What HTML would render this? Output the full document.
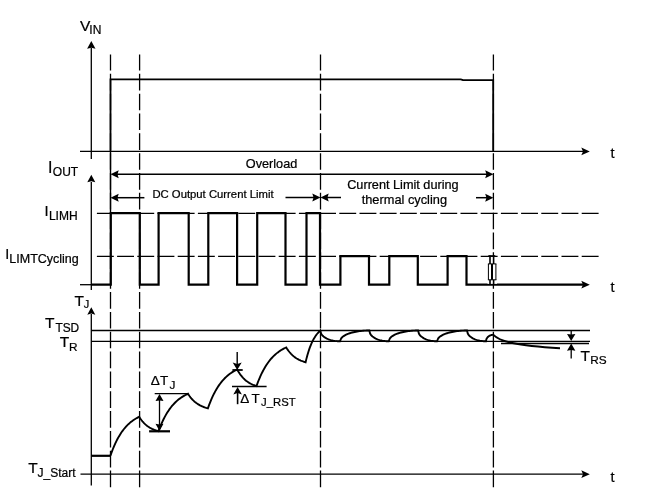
<!DOCTYPE html>
<html><head><meta charset="utf-8"><style>html,body{margin:0;padding:0;background:#fff;overflow:hidden}svg{display:block;will-change:transform}</style></head>
<body><svg width="654" height="502" viewBox="0 0 654 502">
<rect x="0" y="0" width="654" height="502" fill="#fff"/>
<line x1="110.5" y1="54.5" x2="110.5" y2="487.5" stroke="#000" stroke-width="1.3" stroke-dasharray="16.64 3.2" stroke-dashoffset="0.54"/>
<line x1="139.6" y1="54.5" x2="139.6" y2="487.5" stroke="#000" stroke-width="1.3" stroke-dasharray="16.64 3.2" stroke-dashoffset="0.54"/>
<line x1="320.5" y1="54.5" x2="320.5" y2="487.5" stroke="#000" stroke-width="1.3" stroke-dasharray="16.64 3.2" stroke-dashoffset="0.54"/>
<line x1="493.4" y1="54.5" x2="493.4" y2="487.5" stroke="#000" stroke-width="1.3" stroke-dasharray="16.64 3.2" stroke-dashoffset="0.54"/>
<line x1="96" y1="213.4" x2="600" y2="213.4" stroke="#000" stroke-width="1.3" stroke-dasharray="16.9 3.3" stroke-dashoffset="19.3"/>
<line x1="96" y1="256.4" x2="600" y2="256.4" stroke="#000" stroke-width="1.3" stroke-dasharray="16.9 3.3" stroke-dashoffset="19.3"/>
<line x1="91.3" y1="48" x2="91.3" y2="159" stroke="#000" stroke-width="1.3"/>
<polygon points="91.30,41.00 87.10,48.80 91.30,47.63 95.50,48.80" fill="#000"/>
<line x1="91.3" y1="182" x2="91.3" y2="290" stroke="#000" stroke-width="1.3"/>
<polygon points="91.30,174.80 87.30,182.30 91.30,181.18 95.30,182.30" fill="#000"/>
<line x1="91.3" y1="314" x2="91.3" y2="485.5" stroke="#000" stroke-width="1.3"/>
<polygon points="91.30,307.20 87.30,314.70 91.30,313.57 95.30,314.70" fill="#000"/>
<line x1="80" y1="151.4" x2="583" y2="151.4" stroke="#000" stroke-width="1.4"/>
<path d="M110.5,151.2 V79.3 H460.8 L463,80.2 H493.2 V151.2" fill="none" stroke="#000" stroke-width="1.8" stroke-linejoin="miter" stroke-linecap="butt"/>
<line x1="110.5" y1="151" x2="110.5" y2="214" stroke="#000" stroke-width="1.4"/>
<polygon points="589.80,151.40 581.30,147.50 583.00,151.40 581.30,155.30" fill="#000"/>
<line x1="80" y1="284.7" x2="92" y2="284.7" stroke="#000" stroke-width="1.3"/>
<path d="M91.3,284.7 H110.8 V213.2 H139.8 V284.7 H158.6 V213.2 H188.7 V284.7 H208.3 V213.2 H237.1 V284.7 H257.2 V213.2 H285.5 V284.7 H306.5 V213.2 H320 V284.7 H340.4 V256.2 H369 V284.7 H389.3 V256.2 H417.8 V284.7 H447.6 V256.2 H466.5 V284.7 H583" fill="none" stroke="#000" stroke-width="2.2" stroke-linejoin="miter" stroke-linecap="butt"/>
<polygon points="589.80,284.70 581.30,280.80 583.00,284.70 581.30,288.60" fill="#000"/>
<rect x="487.5" y="257" width="9.5" height="26.8" fill="#fff"/>
<rect x="488.3" y="255.2" width="7" height="1.8" fill="#000"/>
<rect x="489.2" y="255.5" width="1.6" height="8.5" fill="#000"/>
<rect x="489.2" y="279.8" width="1.6" height="5" fill="#000"/>
<rect x="492.8" y="255.5" width="1.6" height="8.5" fill="#000"/>
<rect x="492.8" y="279.8" width="1.6" height="5" fill="#000"/>
<rect x="491.0" y="264" width="2.0" height="15.8" fill="#000"/>
<rect x="487.9" y="264" width="1.0" height="15.8" fill="#000"/>
<rect x="495.4" y="264" width="1.0" height="15.8" fill="#000"/>
<rect x="487.9" y="263.4" width="8.5" height="1.0" fill="#000"/>
<rect x="487.9" y="279.3" width="8.5" height="1.0" fill="#000"/>
<line x1="80.5" y1="474.2" x2="583" y2="474.2" stroke="#000" stroke-width="1.3"/>
<polygon points="589.80,474.20 581.30,470.30 583.00,474.20 581.30,478.10" fill="#000"/>
<line x1="117" y1="174.3" x2="487" y2="174.3" stroke="#000" stroke-width="1.4"/>
<polygon points="110.50,174.30 118.70,170.30 117.47,174.30 118.70,178.30" fill="#000"/>
<polygon points="493.40,174.30 485.20,170.30 486.43,174.30 485.20,178.30" fill="#000"/>
<line x1="117" y1="197.7" x2="144.4" y2="197.7" stroke="#000" stroke-width="1.5"/>
<polygon points="110.50,197.70 118.70,193.70 117.47,197.70 118.70,201.70" fill="#000"/>
<line x1="285.5" y1="197.5" x2="314" y2="197.5" stroke="#000" stroke-width="1.5"/>
<polygon points="320.50,197.50 312.30,193.50 313.53,197.50 312.30,201.50" fill="#000"/>
<line x1="327" y1="197.5" x2="341" y2="197.5" stroke="#000" stroke-width="1.5"/>
<polygon points="320.50,197.50 328.70,193.50 327.47,197.50 328.70,201.50" fill="#000"/>
<line x1="476" y1="197.7" x2="487" y2="197.7" stroke="#000" stroke-width="1.5"/>
<polygon points="493.40,197.70 485.20,193.70 486.43,197.70 485.20,201.70" fill="#000"/>
<line x1="91.3" y1="330.5" x2="590" y2="330.5" stroke="#000" stroke-width="1.3"/>
<line x1="91.3" y1="341.3" x2="590" y2="341.3" stroke="#000" stroke-width="1.3"/>
<line x1="501" y1="343.5" x2="589" y2="343.5" stroke="#000" stroke-width="1.3"/>
<line x1="91.3" y1="455.8" x2="110.4" y2="455.8" stroke="#000" stroke-width="2.2"/>
<path d="M110.40,455.80 L111.60,452.40 L112.80,449.25 L114.00,446.34 L115.20,443.63 L116.40,441.12 L117.60,438.79 L118.80,436.64 L120.00,434.64 L121.20,432.79 L122.40,431.07 L123.60,429.48 L124.80,428.00 L126.00,426.63 L127.20,425.36 L128.40,424.19 L129.60,423.10 L130.80,422.09 L132.00,421.15 L133.20,420.28 L134.40,419.47 L135.60,418.73 L136.80,418.04 L138.00,417.39 L139.20,416.80 L140.00,418.05 L140.81,419.22 L141.61,420.29 L142.42,421.29 L143.22,422.22 L144.02,423.08 L144.83,423.88 L145.63,424.61 L146.44,425.30 L147.24,425.93 L148.05,426.52 L148.85,427.06 L149.65,427.57 L150.46,428.04 L151.26,428.47 L152.07,428.88 L152.87,429.25 L153.68,429.59 L154.48,429.92 L155.28,430.21 L156.09,430.49 L156.89,430.74 L157.70,430.98 L158.50,431.20 L159.73,427.94 L160.96,424.92 L162.19,422.12 L163.42,419.53 L164.65,417.12 L165.88,414.89 L167.10,412.82 L168.33,410.91 L169.56,409.13 L170.79,407.48 L172.02,405.96 L173.25,404.54 L174.48,403.23 L175.71,402.01 L176.94,400.88 L178.17,399.84 L179.40,398.87 L180.62,397.97 L181.85,397.14 L183.08,396.37 L184.31,395.65 L185.54,394.99 L186.77,394.37 L188.00,393.80 L188.83,395.06 L189.66,396.23 L190.49,397.32 L191.32,398.33 L192.15,399.26 L192.97,400.12 L193.80,400.92 L194.63,401.67 L195.46,402.36 L196.29,402.99 L197.12,403.59 L197.95,404.14 L198.78,404.64 L199.61,405.12 L200.44,405.55 L201.27,405.96 L202.10,406.33 L202.93,406.68 L203.75,407.01 L204.58,407.31 L205.41,407.58 L206.24,407.84 L207.07,408.08 L207.90,408.30 L209.12,404.92 L210.34,401.79 L211.56,398.88 L212.78,396.19 L214.00,393.70 L215.22,391.38 L216.45,389.24 L217.67,387.25 L218.89,385.40 L220.11,383.70 L221.33,382.11 L222.55,380.64 L223.77,379.28 L224.99,378.02 L226.21,376.85 L227.43,375.76 L228.65,374.76 L229.88,373.83 L231.10,372.96 L232.32,372.16 L233.54,371.42 L234.76,370.73 L235.98,370.09 L237.20,369.50 L238.00,370.94 L238.81,372.27 L239.61,373.50 L240.42,374.65 L241.22,375.71 L242.02,376.69 L242.83,377.61 L243.63,378.45 L244.44,379.24 L245.24,379.96 L246.05,380.64 L246.85,381.26 L247.65,381.84 L248.46,382.38 L249.26,382.87 L250.07,383.34 L250.87,383.76 L251.68,384.16 L252.48,384.53 L253.28,384.87 L254.09,385.18 L254.89,385.48 L255.70,385.75 L256.50,386.00 L257.74,382.64 L258.98,379.52 L260.21,376.63 L261.45,373.95 L262.69,371.47 L263.93,369.17 L265.16,367.03 L266.40,365.06 L267.64,363.22 L268.88,361.52 L270.11,359.95 L271.35,358.49 L272.59,357.13 L273.82,355.88 L275.06,354.71 L276.30,353.63 L277.54,352.63 L278.77,351.70 L280.01,350.84 L281.25,350.05 L282.49,349.31 L283.72,348.62 L284.96,347.99 L286.20,347.40 L287.01,348.69 L287.82,349.88 L288.62,350.99 L289.43,352.02 L290.24,352.97 L291.05,353.85 L291.86,354.67 L292.67,355.43 L293.48,356.13 L294.28,356.79 L295.09,357.39 L295.90,357.95 L296.71,358.47 L297.52,358.95 L298.32,359.40 L299.13,359.81 L299.94,360.19 L300.75,360.55 L301.56,360.88 L302.37,361.18 L303.18,361.47 L303.98,361.73 L304.79,361.97 L305.60,362.20 L306.21,359.63 L306.83,357.24 L307.44,354.99 L308.05,352.90 L308.66,350.94 L309.28,349.10 L309.89,347.39 L310.50,345.79 L311.11,344.29 L311.73,342.89 L312.34,341.58 L312.95,340.35 L313.56,339.21 L314.18,338.14 L314.79,337.14 L315.40,336.20 L316.01,335.32 L316.62,334.51 L317.24,333.74 L317.85,333.03 L318.46,332.36 L319.07,331.73 L319.69,331.15 L320.30,330.60 L321.12,333.66 L321.94,334.88 L322.76,335.78 L323.58,336.51 L324.40,337.14 L325.23,337.68 L326.05,338.15 L326.87,338.58 L327.69,338.95 L328.51,339.29 L329.33,339.59 L330.15,339.87 L330.97,340.11 L331.79,340.33 L332.61,340.52 L333.43,340.69 L334.25,340.83 L335.07,340.96 L335.90,341.07 L336.72,341.15 L337.54,341.22 L338.36,341.26 L339.18,341.29 L340.00,341.30 L341.22,338.21 L342.44,336.98 L343.66,336.07 L344.88,335.33 L346.10,334.70 L347.32,334.16 L348.55,333.68 L349.77,333.25 L350.99,332.87 L352.21,332.53 L353.43,332.22 L354.65,331.95 L355.87,331.70 L357.09,331.48 L358.31,331.29 L359.53,331.12 L360.75,330.97 L361.98,330.84 L363.20,330.74 L364.42,330.65 L365.64,330.58 L366.86,330.54 L368.08,330.51 L369.30,330.50 L370.11,333.59 L370.92,334.82 L371.73,335.73 L372.53,336.47 L373.34,337.10 L374.15,337.64 L374.96,338.12 L375.77,338.55 L376.57,338.93 L377.38,339.27 L378.19,339.58 L379.00,339.85 L379.81,340.10 L380.62,340.32 L381.43,340.51 L382.23,340.68 L383.04,340.83 L383.85,340.96 L384.66,341.06 L385.47,341.15 L386.27,341.22 L387.08,341.26 L387.89,341.29 L388.70,341.30 L389.93,338.21 L391.15,336.98 L392.38,336.07 L393.60,335.33 L394.82,334.70 L396.05,334.16 L397.27,333.68 L398.50,333.25 L399.73,332.87 L400.95,332.53 L402.18,332.22 L403.40,331.95 L404.62,331.70 L405.85,331.48 L407.07,331.29 L408.30,331.12 L409.53,330.97 L410.75,330.84 L411.98,330.74 L413.20,330.65 L414.43,330.58 L415.65,330.54 L416.88,330.51 L418.10,330.50 L418.89,333.59 L419.68,334.82 L420.46,335.73 L421.25,336.47 L422.04,337.10 L422.83,337.64 L423.61,338.12 L424.40,338.55 L425.19,338.93 L425.98,339.27 L426.76,339.58 L427.55,339.85 L428.34,340.10 L429.12,340.32 L429.91,340.51 L430.70,340.68 L431.49,340.83 L432.27,340.96 L433.06,341.06 L433.85,341.15 L434.64,341.22 L435.43,341.26 L436.21,341.29 L437.00,341.30 L438.25,338.21 L439.50,336.98 L440.75,336.07 L442.00,335.33 L443.25,334.70 L444.50,334.16 L445.75,333.68 L447.00,333.25 L448.25,332.87 L449.50,332.53 L450.75,332.22 L452.00,331.95 L453.25,331.70 L454.50,331.48 L455.75,331.29 L457.00,331.12 L458.25,330.97 L459.50,330.84 L460.75,330.74 L462.00,330.65 L463.25,330.58 L464.50,330.54 L465.75,330.51 L467.00,330.50 L467.79,333.59 L468.58,334.82 L469.38,335.73 L470.17,336.47 L470.96,337.10 L471.75,337.64 L472.54,338.12 L473.33,338.55 L474.12,338.93 L474.92,339.27 L475.71,339.58 L476.50,339.85 L477.29,340.10 L478.08,340.32 L478.88,340.51 L479.67,340.68 L480.46,340.83 L481.25,340.96 L482.04,341.06 L482.83,341.15 L483.62,341.22 L484.42,341.26 L485.21,341.29 L486.00,341.30 L486.31,339.44 L486.62,338.70 L486.93,338.15 L487.23,337.71 L487.54,337.33 L487.85,337.00 L488.16,336.71 L488.47,336.46 L488.77,336.23 L489.08,336.02 L489.39,335.84 L489.70,335.67 L490.01,335.52 L490.32,335.39 L490.62,335.27 L490.93,335.17 L491.24,335.08 L491.55,335.01 L491.86,334.94 L492.17,334.89 L492.47,334.85 L492.78,334.82 L493.09,334.81 L493.40,334.80 C500,341.5 515,345.5 560,348.3" fill="none" stroke="#000" stroke-width="1.9" stroke-linejoin="miter" stroke-linecap="butt" stroke-linejoin="round"/>
<line x1="154.7" y1="393.7" x2="188.1" y2="393.7" stroke="#000" stroke-width="1.3"/>
<line x1="149.1" y1="431.3" x2="170" y2="431.3" stroke="#000" stroke-width="2.2"/>
<line x1="159.5" y1="399" x2="159.5" y2="426" stroke="#000" stroke-width="1.3"/>
<polygon points="159.50,393.90 155.50,401.10 159.50,400.38 163.50,401.10" fill="#000"/>
<polygon points="159.50,431.00 155.50,423.80 159.50,424.52 163.50,423.80" fill="#000"/>
<line x1="237.2" y1="352" x2="237.2" y2="364" stroke="#000" stroke-width="1.4"/>
<polygon points="237.20,370.00 232.70,362.50 237.20,364.00 241.70,362.50" fill="#000"/>
<line x1="232.4" y1="370.0" x2="242.7" y2="370.0" stroke="#000" stroke-width="1.8"/>
<line x1="232.0" y1="386.5" x2="266.6" y2="386.5" stroke="#000" stroke-width="1.4"/>
<line x1="237.6" y1="393" x2="237.6" y2="404.2" stroke="#000" stroke-width="1.6"/>
<polygon points="237.60,387.00 233.30,394.50 237.60,393.00 241.90,394.50" fill="#000"/>
<line x1="571.2" y1="330.5" x2="571.2" y2="335" stroke="#000" stroke-width="1.3"/>
<polygon points="571.20,341.10 567.00,333.90 571.20,334.62 575.40,333.90" fill="#000"/>
<line x1="571.2" y1="350" x2="571.2" y2="358.4" stroke="#000" stroke-width="1.3"/>
<polygon points="571.20,343.60 567.00,350.80 571.20,350.08 575.40,350.80" fill="#000"/>
<text x="245.8" y="167.6" font-size="12.7" font-family="Liberation Sans, sans-serif" fill="#000" stroke="#000" stroke-width="0.22" text-anchor="start">Overload</text>
<text x="152.4" y="198.0" font-size="11.3" font-family="Liberation Sans, sans-serif" fill="#000" stroke="#000" stroke-width="0.22" text-anchor="start">DC Output Current Limit</text>
<text x="347.2" y="188.9" font-size="12.7" font-family="Liberation Sans, sans-serif" fill="#000" stroke="#000" stroke-width="0.22" text-anchor="start">Current Limit during</text>
<text x="361.7" y="204.3" font-size="12.8" font-family="Liberation Sans, sans-serif" fill="#000" stroke="#000" stroke-width="0.22" text-anchor="start">thermal cycling</text>
<text x="610.5" y="157.5" font-size="14.5" font-family="Liberation Sans, sans-serif" fill="#000" stroke="#000" stroke-width="0.22" text-anchor="start">t</text>
<text x="610.5" y="291.5" font-size="14.5" font-family="Liberation Sans, sans-serif" fill="#000" stroke="#000" stroke-width="0.22" text-anchor="start">t</text>
<text x="610.5" y="481.7" font-size="14.5" font-family="Liberation Sans, sans-serif" fill="#000" stroke="#000" stroke-width="0.22" text-anchor="start">t</text>
<text x="79.9" y="31.4" font-size="15.5" font-family="Liberation Sans, sans-serif" fill="#000" stroke="#000" stroke-width="0.22" text-anchor="start">V</text>
<text x="89.3" y="34.0" font-size="12" font-family="Liberation Sans, sans-serif" fill="#000" stroke="#000" stroke-width="0.22" text-anchor="start">IN</text>
<text x="48.1" y="173.3" font-size="16" font-family="Liberation Sans, sans-serif" fill="#000" stroke="#000" stroke-width="0.22" text-anchor="start">I</text>
<text x="52.8" y="176.0" font-size="12" font-family="Liberation Sans, sans-serif" fill="#000" stroke="#000" stroke-width="0.22" text-anchor="start">OUT</text>
<text x="44.5" y="216.3" font-size="14.7" font-family="Liberation Sans, sans-serif" fill="#000" stroke="#000" stroke-width="0.22" text-anchor="start">I</text>
<text x="48.9" y="219.5" font-size="12" font-family="Liberation Sans, sans-serif" fill="#000" stroke="#000" stroke-width="0.22" text-anchor="start">LIMH</text>
<text x="5.2" y="258.5" font-size="14.4" font-family="Liberation Sans, sans-serif" fill="#000" stroke="#000" stroke-width="0.22" text-anchor="start">I</text>
<text x="9.3" y="263.0" font-size="12.5" font-family="Liberation Sans, sans-serif" fill="#000" stroke="#000" stroke-width="0.22" text-anchor="start">LIMTCycling</text>
<text x="74.5" y="305.5" font-size="15.5" font-family="Liberation Sans, sans-serif" fill="#000" stroke="#000" stroke-width="0.22" text-anchor="start">T</text>
<text x="83.8" y="308.4" font-size="11" font-family="Liberation Sans, sans-serif" fill="#000" stroke="#000" stroke-width="0.22" text-anchor="start">J</text>
<text x="45.1" y="328.3" font-size="15.5" font-family="Liberation Sans, sans-serif" fill="#000" stroke="#000" stroke-width="0.22" text-anchor="start">T</text>
<text x="55.4" y="331.7" font-size="11.9" font-family="Liberation Sans, sans-serif" fill="#000" stroke="#000" stroke-width="0.22" text-anchor="start">TSD</text>
<text x="59.7" y="347.0" font-size="15.5" font-family="Liberation Sans, sans-serif" fill="#000" stroke="#000" stroke-width="0.22" text-anchor="start">T</text>
<text x="68.9" y="350.5" font-size="11.8" font-family="Liberation Sans, sans-serif" fill="#000" stroke="#000" stroke-width="0.22" text-anchor="start">R</text>
<text x="28.2" y="472.6" font-size="15.5" font-family="Liberation Sans, sans-serif" fill="#000" stroke="#000" stroke-width="0.22" text-anchor="start">T</text>
<text x="37.6" y="476.7" font-size="12" font-family="Liberation Sans, sans-serif" fill="#000" stroke="#000" stroke-width="0.22" text-anchor="start">J_Start</text>
<text x="150.8" y="385.4" font-size="13.5" font-family="Liberation Sans, sans-serif" fill="#000" stroke="#000" stroke-width="0.22" text-anchor="start">Δ</text>
<text x="160.1" y="385.4" font-size="13.5" font-family="Liberation Sans, sans-serif" fill="#000" stroke="#000" stroke-width="0.22" text-anchor="start">T</text>
<text x="169.5" y="388.5" font-size="11.8" font-family="Liberation Sans, sans-serif" fill="#000" stroke="#000" stroke-width="0.22" text-anchor="start">J</text>
<text x="240.3" y="402.6" font-size="13.5" font-family="Liberation Sans, sans-serif" fill="#000" stroke="#000" stroke-width="0.22" text-anchor="start">Δ</text>
<text x="251.5" y="402.6" font-size="13.5" font-family="Liberation Sans, sans-serif" fill="#000" stroke="#000" stroke-width="0.22" text-anchor="start">T</text>
<text x="261.1" y="406.4" font-size="11.3" font-family="Liberation Sans, sans-serif" fill="#000" stroke="#000" stroke-width="0.22" text-anchor="start">J_RST</text>
<text x="580.4" y="361.4" font-size="15.5" font-family="Liberation Sans, sans-serif" fill="#000" stroke="#000" stroke-width="0.22" text-anchor="start">T</text>
<text x="590.2" y="364.2" font-size="11.8" font-family="Liberation Sans, sans-serif" fill="#000" stroke="#000" stroke-width="0.22" text-anchor="start">RS</text>
</svg></body></html>
